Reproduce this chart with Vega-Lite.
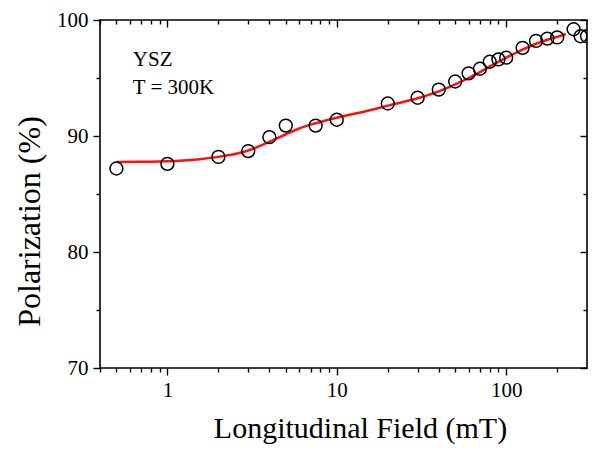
{
  "$schema": "https://vega.github.io/schema/vega-lite/v6.json",
  "width": 487,
  "height": 348,
  "autosize": {"type": "none"},
  "padding": {"left": 100, "top": 20, "right": 27, "bottom": 92},
  "config": {
    "font": "Liberation Serif",
    "view": {"stroke": "black", "strokeWidth": 1.6},
    "axis": {
      "grid": false,
      "domain": false,
      "tickColor": "black",
      "tickWidth": 1.4,
      "labelColor": "black",
      "titleColor": "black",
      "labelFont": "Liberation Serif",
      "titleFont": "Liberation Serif",
      "titleFontWeight": "normal",
      "labelFontSize": 21,
      "labelOverlap": false,
      "labelFlush": false
    }
  },
  "datasets": {
    "measured": [
      {"field": 0.5, "polarization": 87.2},
      {"field": 1, "polarization": 87.6},
      {"field": 2, "polarization": 88.2},
      {"field": 3, "polarization": 88.7},
      {"field": 4, "polarization": 89.9},
      {"field": 5, "polarization": 90.9},
      {"field": 7.5, "polarization": 90.9},
      {"field": 10, "polarization": 91.4},
      {"field": 20, "polarization": 92.8},
      {"field": 30, "polarization": 93.3},
      {"field": 40, "polarization": 94.0},
      {"field": 50, "polarization": 94.7},
      {"field": 60, "polarization": 95.4},
      {"field": 70, "polarization": 95.8},
      {"field": 80, "polarization": 96.4},
      {"field": 90, "polarization": 96.6},
      {"field": 100, "polarization": 96.75},
      {"field": 125, "polarization": 97.6},
      {"field": 150, "polarization": 98.2},
      {"field": 175, "polarization": 98.4},
      {"field": 200, "polarization": 98.5},
      {"field": 250, "polarization": 99.2},
      {"field": 275, "polarization": 98.6},
      {"field": 300, "polarization": 98.6}
    ],
    "fit": [
      {"field": 0.5, "polarization": 87.75},
      {"field": 0.7, "polarization": 87.78},
      {"field": 1, "polarization": 87.82},
      {"field": 1.5, "polarization": 87.98},
      {"field": 2, "polarization": 88.2},
      {"field": 2.5, "polarization": 88.45},
      {"field": 3, "polarization": 88.75},
      {"field": 4, "polarization": 89.5},
      {"field": 5, "polarization": 90.15},
      {"field": 6, "polarization": 90.65},
      {"field": 7.5, "polarization": 91.1},
      {"field": 10, "polarization": 91.58},
      {"field": 15, "polarization": 92.15},
      {"field": 20, "polarization": 92.62},
      {"field": 30, "polarization": 93.25},
      {"field": 40, "polarization": 93.85},
      {"field": 50, "polarization": 94.45},
      {"field": 60, "polarization": 95.0},
      {"field": 70, "polarization": 95.5},
      {"field": 80, "polarization": 96.0},
      {"field": 100, "polarization": 96.75},
      {"field": 125, "polarization": 97.45},
      {"field": 150, "polarization": 97.95},
      {"field": 175, "polarization": 98.3},
      {"field": 200, "polarization": 98.55},
      {"field": 225, "polarization": 98.8}
    ]
  },
  "layer": [
    {
      "data": {"name": "fit"},
      "mark": {"type": "line", "color": "#ff1010", "strokeWidth": 2.5, "interpolate": "monotone"},
      "encoding": {
        "x": {
          "field": "field",
          "type": "quantitative",
          "scale": {"type": "log", "domain": [0.4, 300], "nice": false},
          "axis": {
            "orient": "bottom",
            "values": [0.4, 0.5, 0.6, 0.7, 0.8, 0.9, 1, 2, 3, 4, 5, 6, 7, 8, 9, 10, 20, 30, 40, 50, 60, 70, 80, 90, 100, 200],
            "tickSize": {"condition": {"test": "datum.value == 1 || datum.value == 10 || datum.value == 100", "value": 7}, "value": 4},
            "labelExpr": "datum.value == 1 ? '1' : datum.value == 10 ? '10' : datum.value == 100 ? '100' : ''",
            "labelPadding": 4,
            "title": "Longitudinal Field (mT)",
            "titleFontSize": 30,
            "titlePadding": 13,
            "titleX": 260
          }
        },
        "y": {
          "field": "polarization",
          "type": "quantitative",
          "scale": {"domain": [70, 100], "nice": false, "zero": false},
          "axis": {
            "orient": "left",
            "values": [70, 75, 80, 85, 90, 95, 100],
            "tickSize": {"condition": {"test": "datum.value % 10 == 0", "value": 7}, "value": 4},
            "labelExpr": "datum.value % 10 == 0 ? datum.label : ''",
            "labelPadding": 5,
            "title": "Polarization (%)",
            "titleFontSize": 32,
            "titlePadding": 10,
            "titleY": 201
          }
        }
      }
    },
    {
      "data": {"name": "measured"},
      "mark": {"type": "point", "shape": "circle", "filled": false, "stroke": "black", "strokeWidth": 1.5, "size": 165, "opacity": 1, "clip": true},
      "encoding": {
        "x": {
          "field": "field",
          "type": "quantitative",
          "scale": {"type": "log", "domain": [0.4, 300], "nice": false},
          "axis": {
            "orient": "top",
            "values": [0.4, 0.5, 0.6, 0.7, 0.8, 0.9, 1, 2, 3, 4, 5, 6, 7, 8, 9, 10, 20, 30, 40, 50, 60, 70, 80, 90, 100, 200],
            "tickSize": {"condition": {"test": "datum.value == 1 || datum.value == 10 || datum.value == 100", "value": -7}, "value": -4},
            "labels": false,
            "title": null
          }
        },
        "y": {
          "field": "polarization",
          "type": "quantitative",
          "scale": {"domain": [70, 100], "nice": false, "zero": false},
          "axis": {
            "orient": "right",
            "values": [70, 75, 80, 85, 90, 95, 100],
            "tickSize": {"condition": {"test": "datum.value % 10 == 0", "value": -7}, "value": -4},
            "labels": false,
            "title": null
          }
        }
      }
    },
    {
      "data": {"values": [{}]},
      "mark": {"type": "text", "text": ["YSZ", "T = 300K"], "lineHeight": 28, "align": "left", "baseline": "alphabetic", "fontSize": 21, "font": "Liberation Serif", "color": "black"},
      "encoding": {
        "x": {"datum": 0.625, "type": "quantitative", "axis": null},
        "y": {"datum": 96.0, "type": "quantitative", "axis": null}
      }
    }
  ],
  "resolve": {"axis": {"x": "independent", "y": "independent"}}
}
